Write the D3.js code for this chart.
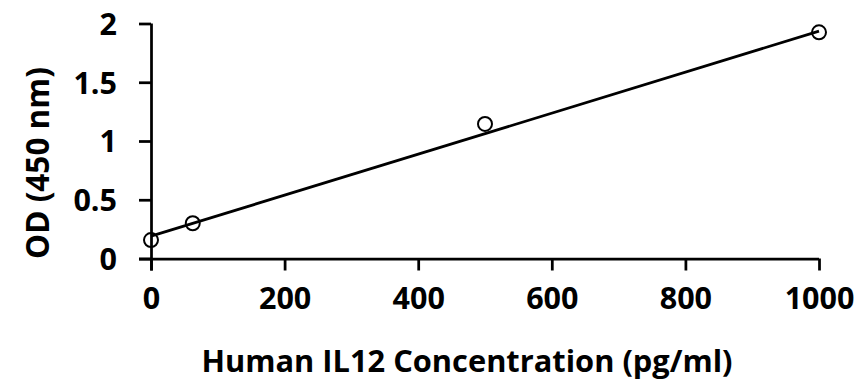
<!DOCTYPE html>
<html><head><meta charset="utf-8">
<script src="https://cdn.jsdelivr.net/npm/d3@7"></script>
<style>
html,body{margin:0;padding:0;background:#fff;}
svg text{font-family:"Open Sans",sans-serif;font-weight:700;fill:#000;}
</style></head>
<body><svg id="c" width="862" height="390"></svg>
<script>
const concentrations = [0, 62.5, 500, 1000];
const odValues = [0.157, 0.30, 1.145, 1.925];
const trendX = [0, 1000];
const trendY = [0.19, 1.935];
const xTicks = [0, 200, 400, 600, 800, 1000];
const yTicks = [0, 0.5, 1, 1.5, 2];
const xTitle = "Human IL12 Concentration (pg/ml)";
const yTitle = "OD (450 nm)";

const svg = d3.select("#c");
const x = d3.scaleLinear().domain([0, 1000]).range([151, 819]);
const y = d3.scaleLinear().domain([0, 2]).range([258.5, 23.5]);

const xAxis = svg.append("g").attr("transform", `translate(0,${y(0)})`)
  .call(d3.axisBottom(x).tickValues(xTicks).tickSize(12).tickPadding(10).tickFormat(d3.format("d")));
const yAxis = svg.append("g").attr("transform", `translate(${x(0)},0)`)
  .call(d3.axisLeft(y).tickValues(yTicks).tickSize(12).tickPadding(22).tickFormat(d => String(d)));
[xAxis, yAxis].forEach(g => {
  g.select(".domain").attr("stroke", "#000").attr("stroke-width", 2.75);
  g.selectAll(".tick line").attr("stroke", "#000").attr("stroke-width", 2.75);
  g.selectAll(".tick text").attr("font-size", 30.5).attr("fill", "#000");
});
xAxis.select(".domain").attr("d", `M${x(0)-12},0.5H${x(1000)}`);
yAxis.select(".domain").attr("d", `M0.5,${y(0)+12}V${y(2)}`);
yAxis.selectAll(".tick text").attr("dy", "0.36em");
xAxis.selectAll(".tick text").attr("dy", "0.92em");

const pts = concentrations.map((c, i) => [c, odValues[i]]);
svg.append("g").selectAll("circle").data(pts).join("circle")
  .attr("cx", d => x(d[0])).attr("cy", d => y(d[1])).attr("r", 7)
  .attr("fill", "none").attr("stroke", "#000").attr("stroke-width", 2);

svg.append("path")
  .datum(trendX.map((v, i) => [v, trendY[i]]))
  .attr("d", d3.line().x(d => x(d[0])).y(d => y(d[1])))
  .attr("fill", "none").attr("stroke", "#000").attr("stroke-width", 2.75);

svg.append("text").attr("x", 467).attr("y", 372).attr("text-anchor", "middle")
  .attr("font-size", 30.8).text(xTitle);
svg.append("text").attr("transform", "translate(49,163) rotate(-90)")
  .attr("text-anchor", "middle").attr("font-size", 31.5).text(yTitle);
</script></body></html>
